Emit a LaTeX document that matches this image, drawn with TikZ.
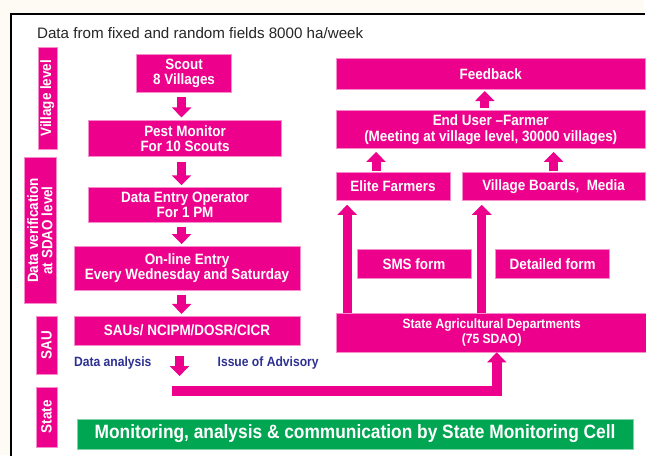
\documentclass[tikz,border=0pt]{standalone}
\usepackage{fontspec}
\setmainfont{Liberation Sans}[FakeStretch=0.9]
\newfontfamily\titlefont{Liberation Sans}
\usetikzlibrary{arrows.meta}
\definecolor{mag}{HTML}{EC008C}
\definecolor{grn}{HTML}{00A651}
\definecolor{navy}{HTML}{2E3192}
\definecolor{cream}{HTML}{FDFBF3}

\begin{document}
\begin{tikzpicture}[x=1pt,y=-1pt,
  box/.style={fill=mag, draw=mag!45, line width=0.6pt, text=white,
    font=\fontsize{15}{15.5}\selectfont\bfseries, align=center, inner sep=0pt},
  side/.style={box, rotate=90},
  greenbox/.style={fill=grn, draw=grn!50, line width=0.6pt, text=white,
    font=\fontsize{19.3}{20}\selectfont\bfseries, inner sep=0pt},
  note/.style={text=navy, font=\fontsize{13.5}{14}\selectfont\bfseries, inner sep=0pt, anchor=west},
  barr/.style={mag, line width=9pt, -{Triangle[width=19pt,length=10pt]}},
]
% page and frame
\fill[cream] (0,0) rectangle (646,456);
\fill[white] (11,14) rectangle (646,456);
\draw[line width=1.3pt] (11,457) -- (11,14) -- (647,14);
\useasboundingbox (0,0) rectangle (646,456);

% heading
\node[anchor=base west, inner sep=0pt, font=\titlefont\fontsize{15.2}{16}\selectfont, text=black!85]
  (title) at (37,38.5) {Data from fixed and random fields 8000 ha/week};

% level labels
\node[side, minimum width=103, minimum height=19] (lvillage) at (47.5,98.5) {Village level};
\node[side, minimum width=146, minimum height=32, font=\fontsize{15}{14.5}\selectfont\bfseries]
  (lsdao) at (40,231) {Data verification\\at SDAO level};
\node[side, minimum width=58, minimum height=21] (lsau) at (46.5,346) {SAU};
\node[side, minimum width=60, minimum height=21] (lstate) at (46.5,418) {State};

% data collection chain
\node[box, minimum width=95, minimum height=39] (scout) at (184.5,73.5) {Scout\\8 Villages};
\node[box, minimum width=193, minimum height=36] (pest) at (185.5,139) {Pest Monitor\\For 10 Scouts};
\node[box, minimum width=193, minimum height=35] (entry) at (185.5,205.5) {Data Entry Operator\\For 1 PM};
\node[box, minimum width=227, minimum height=44] (online) at (187.5,269) {On-line Entry\\Every Wednesday and Saturday};
\node[box, minimum width=227, minimum height=29] (sau) at (187.5,331.5) {SAUs/ NCIPM/DOSR/CICR};

\node[note] (analysis) at (74,364) {Data analysis};
\node[note] (advisory) at (218,364) {Issue of Advisory};

% dissemination side
\node[box, minimum width=310, minimum height=32] (feedback) at (492,74) {Feedback};
\node[box, minimum width=310, minimum height=38] (enduser) at (492,130)
  {End User --Farmer\\(Meeting at village level, 30000 villages)};
\node[box, minimum width=114, minimum height=28] (elite) at (394,187) {Elite Farmers};
\node[box, minimum width=184, minimum height=28] (village) at (555,187) {Village Boards,\ \ Media};
\node[box, minimum width=114, minimum height=29] (sms) at (415,264.5) {SMS form};
\node[box, minimum width=114, minimum height=29] (detail) at (554,264.5) {Detailed form};
\node[box, minimum width=312, minimum height=39, font=\fontsize{13.5}{14.5}\selectfont\bfseries]
  (sdao) at (493,333.5) {State Agricultural Departments\\(75 SDAO)};

% monitoring cell
\node[greenbox, minimum width=558, minimum height=30] (cell) at (356,435)
  {Monitoring, analysis \& communication by State Monitoring Cell};

% arrow axes
\coordinate (ax) at (182,0);
\coordinate (bx) at (180,0);
\coordinate (fx) at (486,0);
\coordinate (ex) at (377,0);
\coordinate (vx) at (555,0);
\coordinate (lx) at (348,0);
\coordinate (rx) at (483,0);
\coordinate (dn) at (180,377);
\coordinate (barL) at (172,392);
\coordinate (barR) at (498,392);

% downward chain
\draw[barr, shorten <=4pt, shorten >=3pt] (scout.south -| ax) -- (pest.north -| ax);
\draw[barr, shorten <=5pt, shorten >=2pt] (pest.south -| ax) -- (entry.north -| ax);
\draw[barr, shorten <=4pt, shorten >=2pt] (entry.south -| ax) -- (online.north -| ax);
\draw[barr, shorten <=4pt, shorten >=2pt] (online.south -| ax) -- (sau.north -| ax);
\draw[barr, shorten <=11pt] (sau.south -| bx) -- (dn);

% advisory route to the state departments
\draw[barr, line join=miter, line width=10pt] (barL) -- (barR) -- (barR |- sdao.south);

% upward dissemination
\draw[barr, shorten <=2pt, shorten >=1pt] (enduser.north -| fx) -- (feedback.south -| fx);
\draw[barr, shorten <=1pt, shorten >=3pt] (elite.north -| ex) -- (enduser.south -| ex);
\draw[barr, shorten <=1pt, shorten >=3pt] (village.north -| vx) -- (enduser.south -| vx);
\draw[barr, shorten >=4pt] (sdao.north -| lx) -- (elite.south -| lx);
\draw[barr, shorten >=4pt] (sdao.north -| rx) -- (village.south -| rx);
\end{tikzpicture}
\end{document}
